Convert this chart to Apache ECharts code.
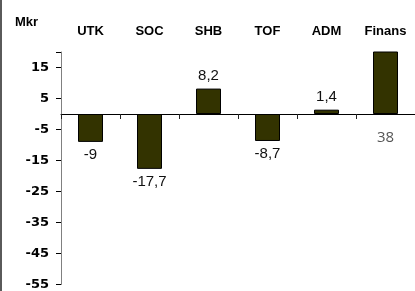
<!DOCTYPE html>
<html>
<head>
<meta charset="utf-8">
<script src="https://cdn.jsdelivr.net/npm/echarts@6/dist/echarts.min.js"></script>
<style>
  html, body { margin: 0; padding: 0; background: #fff; }
  #chart { width: 415px; height: 291px; }
</style>
</head>
<body>
<div id="chart"></div>
<script>
const categories = ['UTK', 'SOC', 'SHB', 'TOF', 'ADM', 'Finans']
const values = [-9, -17.7, 8.2, -8.7, 1.4, 38]
const yTicks = [-55, -45, -35, -25, -15, -5, 5, 15]

const chart = echarts.init(document.getElementById('chart'))

function fmt(v) {
  return String(v).replace('.', ',')
}

// the last bar runs past the top of the axis, so its label sits under the zero line
const barData = values.map((v) => {
  const clipped = v > 20
  return {
    value: v,
    label: clipped
      ? { position: 'bottom', distance: 16, color: '#555', fontFamily: 'Open Sans', fontSize: 15 }
      : { position: v < 0 ? 'bottom' : 'top' }
  }
})

chart.setOption({
  animation: false,
  graphic: [
    { type: 'rect', shape: { x: 0, y: 0, width: 2, height: 291 }, style: { fill: '#5a5a5a' } },
    {
      type: 'text', left: 15, top: 16,
      style: { text: 'Mkr', font: 'bold 13px "Liberation Sans"', fill: '#000' }
    }
  ],
  grid: { left: 61, right: -5, top: 52, bottom: 5 },
  xAxis: [
    {
      type: 'category',
      data: categories,
      axisLine: { onZero: true, lineStyle: { color: '#000', width: 1 } },
      axisTick: { show: true, length: 5, lineStyle: { color: '#222' } },
      axisLabel: { show: false }
    },
    {
      type: 'category',
      position: 'top',
      data: categories,
      axisLine: { show: false, onZero: false },
      axisTick: { show: false },
      axisLabel: {
        margin: 14,
        color: '#000',
        fontWeight: 'bold',
        fontSize: 13,
        fontFamily: 'Liberation Sans'
      }
    }
  ],
  yAxis: {
    type: 'value',
    min: -55,
    max: 20,
    interval: 10,
    splitLine: { show: false },
    axisLine: { show: true, lineStyle: { color: '#808080' } },
    axisTick: { show: true, length: 5, lineStyle: { color: '#000', width: 1 } },
    axisLabel: {
      customValues: yTicks,
      margin: 12,
      color: '#000',
      fontWeight: 'bold',
      fontSize: 13,
      fontFamily: 'DejaVu Sans'
    }
  },
  series: [
    {
      type: 'bar',
      data: barData,
      barWidth: 25,
      clip: true,
      itemStyle: { color: '#333300', borderColor: '#000', borderWidth: 1 },
      label: {
        show: true,
        distance: 5,
        color: '#111',
        fontSize: 15,
        fontFamily: 'Liberation Sans',
        formatter: (p) => fmt(p.value)
      }
    }
  ]
})
</script>
</body>
</html>
